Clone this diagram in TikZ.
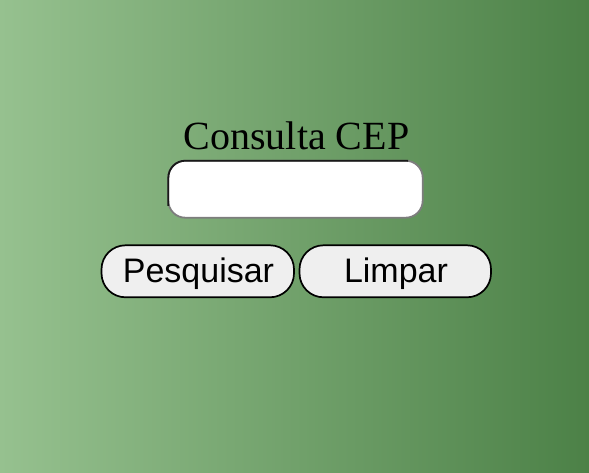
\documentclass[tikz,border=0pt]{standalone}
\usepackage{fontspec}
\setmainfont{Liberation Serif}
\newfontfamily\arialf{Liberation Sans}
\definecolor{bgleft}{RGB}{150,193,143}
\definecolor{bgright}{RGB}{76,129,71}
\definecolor{btnfill}{RGB}{239,239,239}
\definecolor{inputlight}{RGB}{125,125,125}
\definecolor{inputdark}{RGB}{25,25,25}
\begin{document}
\begin{tikzpicture}[x=1pt,y=-1pt,
  btnbox/.style={draw=black, line width=1.7pt, fill=btnfill, rounded corners=24pt,
    inner sep=0pt, minimum height=52pt},
  btnlabel/.style={font=\arialf\fontsize{34}{40}\selectfont, text=black, inner sep=0pt, anchor=base},
  inputbox/.style={draw=inputlight, line width=1.8pt, fill=white, rounded corners=17pt,
    inner sep=0pt, minimum width=254.4pt, minimum height=57pt},
  titletext/.style={font=\fontsize{40}{48}\selectfont, text=black, inner sep=0pt, anchor=base}]
\shade[left color=bgleft, right color=bgright] (0,0) rectangle (589,473);
\useasboundingbox (0,0) rectangle (589,473);
% title
\node[titletext] (title) at (296.5,150) {Consulta CEP};
% input field
\node[inputbox] (cep) at (295.5,189.2) {};
\draw[inputdark, line width=1.8pt]
  (168.3,206) -- (168.3,177.7) .. controls (168.3,168.3) and (175.9,160.7) .. (185.3,160.7) -- (408,160.7);
% buttons
\node[btnbox, minimum width=192.5pt] (pesq) at (197.75,271.3) {};
\node[btnlabel] (pesqtext) at (198.5,282) {Pesquisar};
\node[btnbox, minimum width=191.5pt] (limpar) at (395.25,271.3) {};
\node[btnlabel] (limpartext) at (396,282) {Limpar};
\end{tikzpicture}
\end{document}
